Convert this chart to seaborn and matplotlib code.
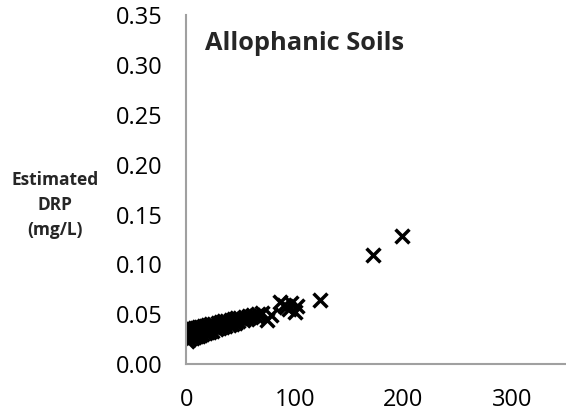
import numpy as np
import pandas as pd
import seaborn as sns
import matplotlib.pyplot as plt

# Data (Olsen P vs estimated DRP)
# lower edge of the main cluster
x_low = [1, 3, 5, 7, 9, 11, 13, 15, 17, 19, 21, 24, 27, 30, 33, 36, 39, 42, 45, 48, 52, 56, 60]
y_low = [0.023, 0.025, 0.026, 0.027, 0.028, 0.028, 0.029, 0.030, 0.031, 0.032, 0.032, 0.033,
         0.035, 0.036, 0.037, 0.038, 0.039, 0.040, 0.041, 0.043, 0.044, 0.045, 0.047]
# middle of the cluster
x_mid = [0.5, 2.5, 5, 8, 12, 16, 20, 25, 30, 35, 40, 46, 52, 58, 64]
y_mid = [0.029, 0.030, 0.031, 0.032, 0.033, 0.034, 0.035, 0.037, 0.039, 0.040, 0.042, 0.043,
         0.045, 0.047, 0.048]
# upper edge of the cluster
x_high = [2, 4, 6, 8, 10, 12, 14, 16, 18, 20, 23, 26, 29, 32, 35, 38, 41, 44, 47, 50, 54, 58,
          62, 66, 70]
y_high = [0.034, 0.035, 0.035, 0.036, 0.036, 0.037, 0.037, 0.038, 0.038, 0.039, 0.040, 0.040,
          0.041, 0.042, 0.043, 0.043, 0.044, 0.045, 0.046, 0.046, 0.047, 0.048, 0.049, 0.050, 0.051]
# sparse points to the right
x_out = [74, 78, 86, 90, 92, 95, 97, 100, 102, 123, 172, 199]
y_out = [0.044, 0.049, 0.062, 0.059, 0.057, 0.055, 0.061, 0.052, 0.058, 0.064, 0.109, 0.128]

df = pd.DataFrame({
    "olsen": x_low + x_mid + x_high + x_out,
    "drp": y_low + y_mid + y_high + y_out,
})

sns.set_style("white")
plt.rcParams["font.family"] = ["Open Sans", "DejaVu Sans"]

fig = plt.figure(figsize=(5.66, 4.19), dpi=100)
ax = fig.add_axes([0.329, 0.131, 0.671, 0.833])

sns.scatterplot(data=df, x="olsen", y="drp", marker="x", color="black",
                s=100, linewidth=2.5, ax=ax, legend=False)

ax.set_xlim(0, 350)
ax.set_ylim(0, 0.35)
ax.set_xticks([0, 100, 200, 300])
ax.set_yticks(np.arange(0, 0.351, 0.05))
ax.set_yticklabels([f"{v:.2f}" for v in np.arange(0, 0.351, 0.05)])
ax.set_xlabel("")
ax.set_ylabel("")

grey = "#a0a0a0"
for side in ["top", "right"]:
    ax.spines[side].set_visible(False)
for side in ["left", "bottom"]:
    ax.spines[side].set_color(grey)
    ax.spines[side].set_linewidth(1.5)
ax.tick_params(axis="both", direction="out", length=6, width=1.5, color=grey,
               labelsize=17, labelcolor="black")
ax.tick_params(axis="y", pad=11)
ax.tick_params(axis="x", pad=11)
ax.patch.set_alpha(0)

ax.text(0.05, 0.90, "Allophanic Soils", transform=ax.transAxes, fontsize=18.3,
        fontweight="bold", va="baseline", ha="left")

fig.text(55 / 566, 0.51, "Estimated\nDRP\n(mg/L)", fontsize=12.5, fontweight="bold",
         ha="center", va="center", multialignment="center", linespacing=1.5)

fig.savefig("out.png", dpi=100)
